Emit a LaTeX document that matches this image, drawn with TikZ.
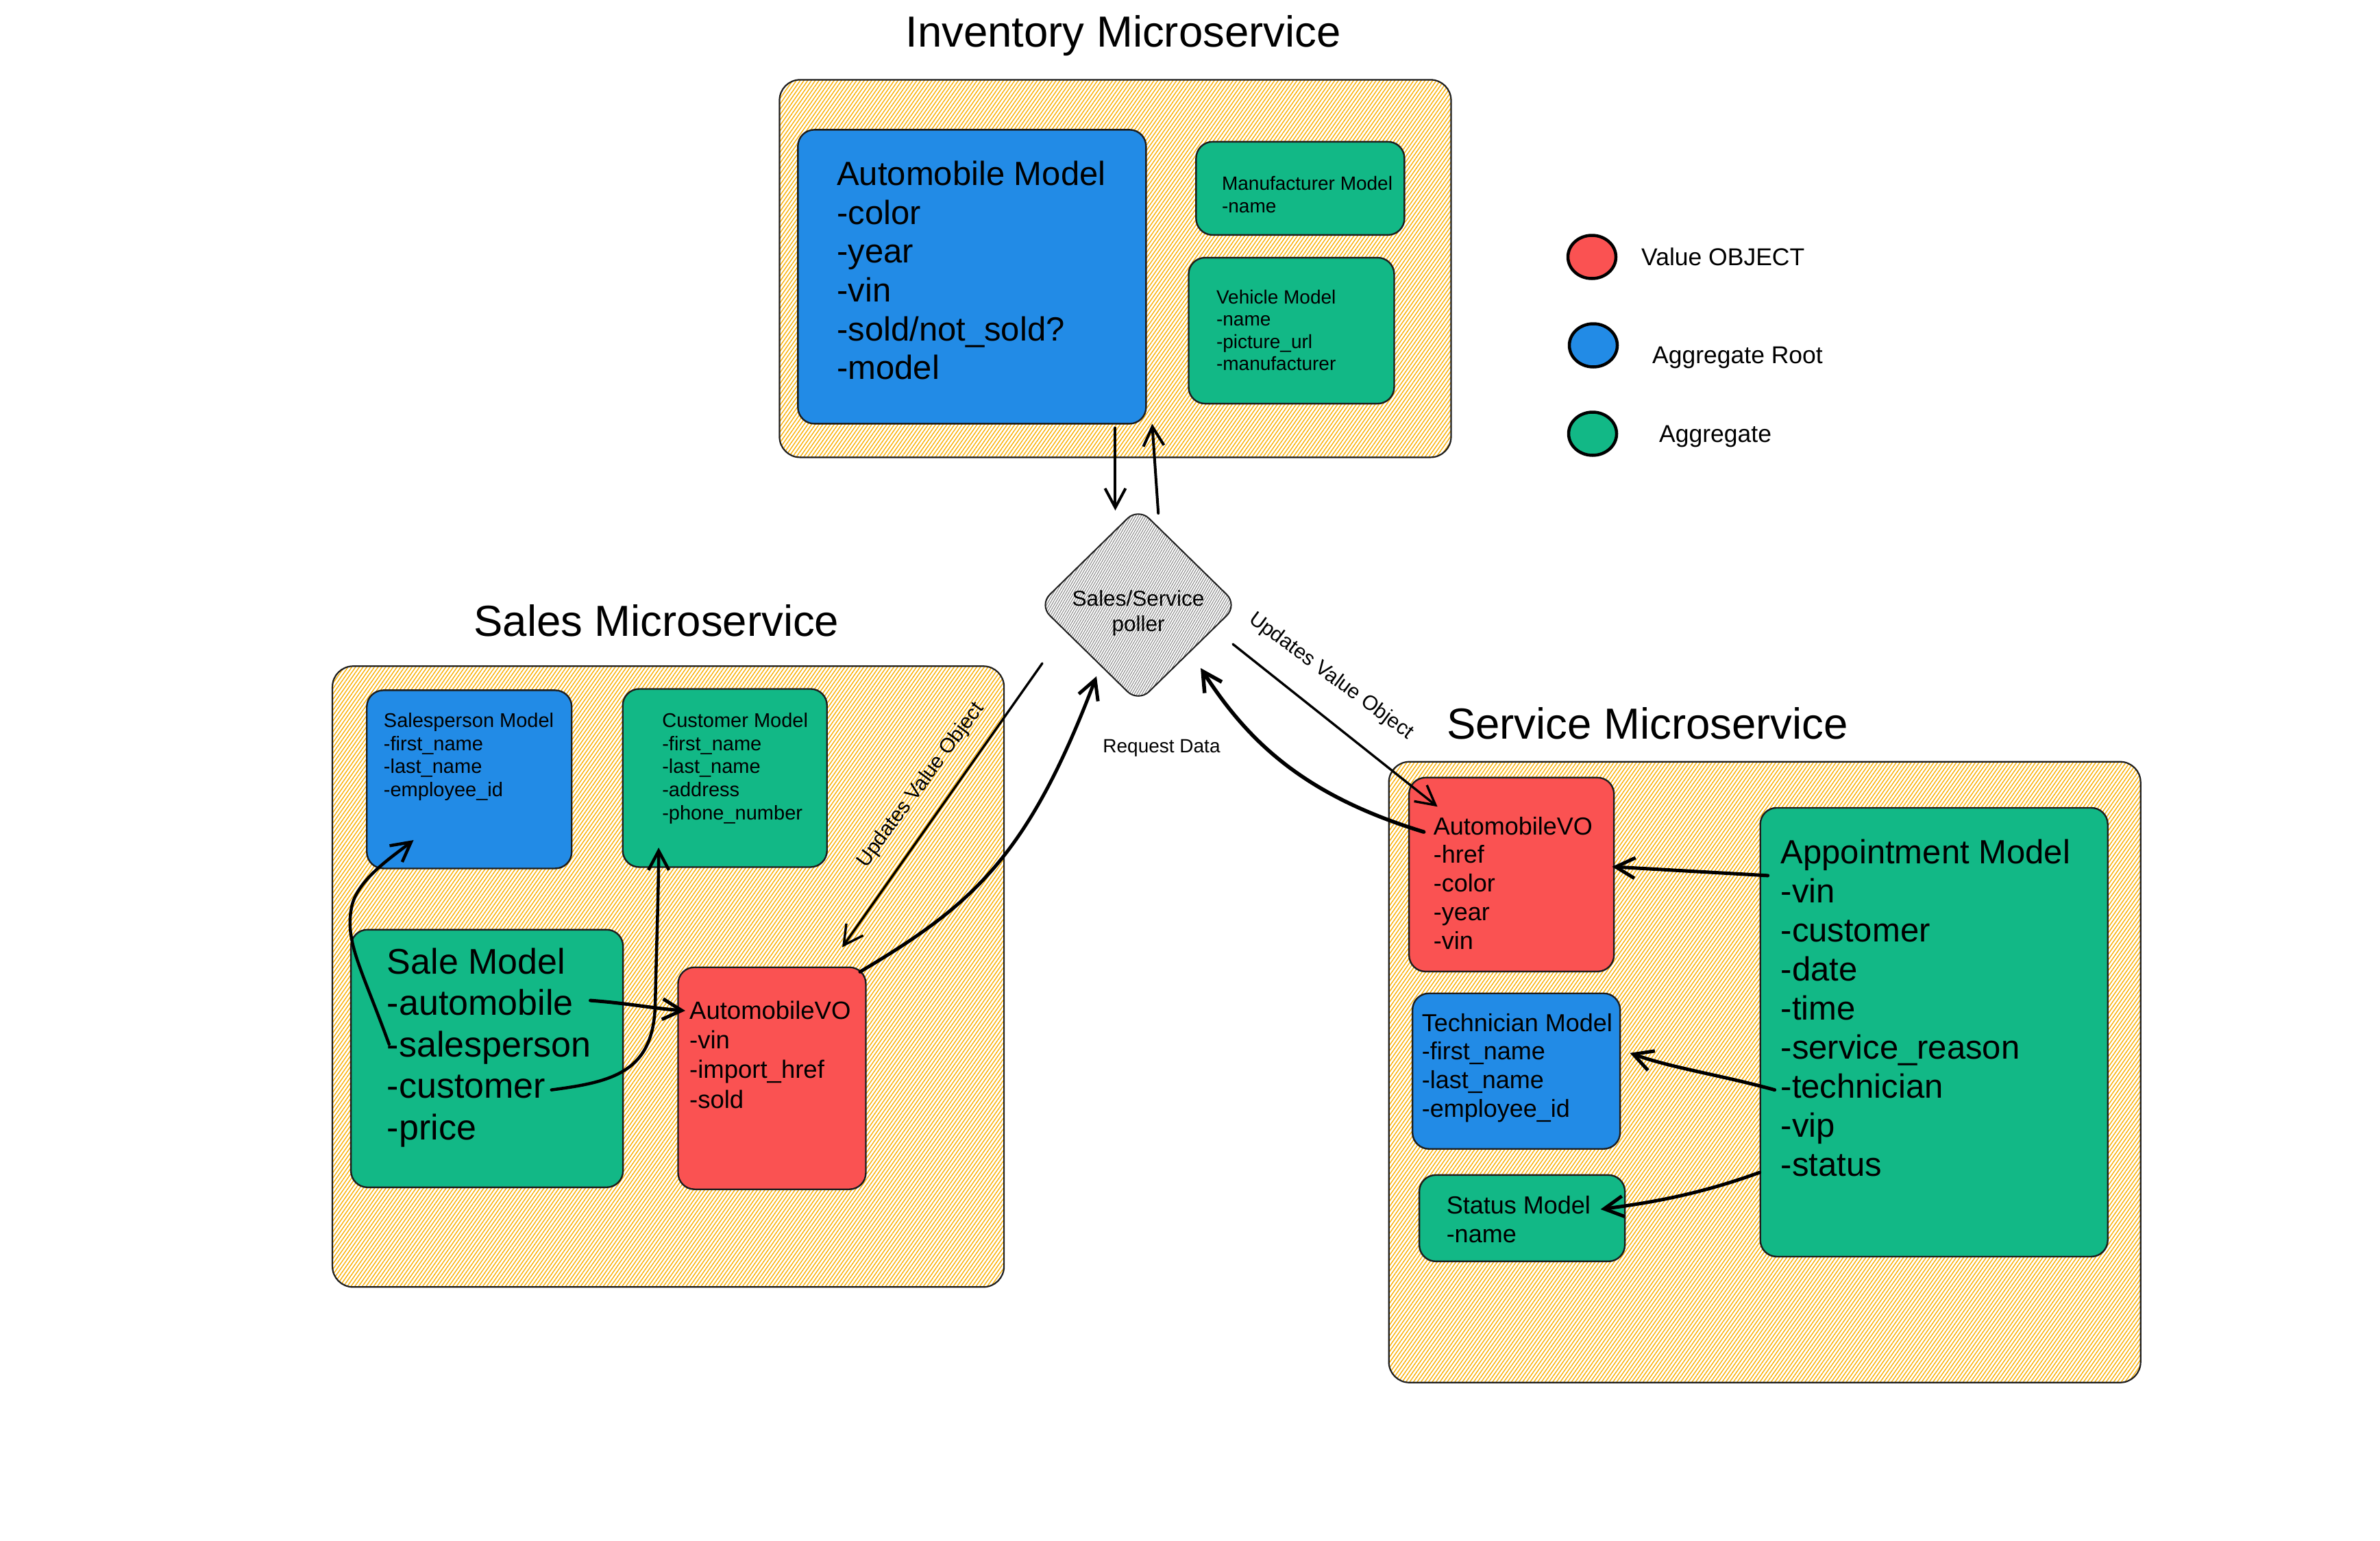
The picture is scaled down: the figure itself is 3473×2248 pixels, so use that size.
\documentclass[tikz,border=0pt]{standalone}
\usepackage{fontspec}
\setmainfont{Liberation Sans}
\usetikzlibrary{shapes.geometric,arrows.meta,patterns.meta}
\definecolor{exblue}{HTML}{228BE6}
\definecolor{exgreen}{HTML}{12B886}
\definecolor{exred}{HTML}{FA5252}
\definecolor{hatchy}{HTML}{FAB005}
\definecolor{hatchg}{HTML}{8C8C8C}
\definecolor{edge}{HTML}{1E1E1E}
\newcommand{\fsz}[2]{\fontsize{#1}{#2}\selectfont}
\begin{document}
\begin{tikzpicture}[x=1pt,y=-1pt,
  container/.style={draw=edge, line width=2.2pt, rounded corners=30pt, inner sep=0pt,
     pattern={Lines[angle=55,distance=4.5pt,line width=1.4pt]}, pattern color=hatchy},
  box/.style={draw=edge, line width=2.4pt, rounded corners=24pt, inner sep=0pt},
  bluebox/.style={box, fill=exblue},
  greenbox/.style={box, fill=exgreen},
  redbox/.style={box, fill=exred},
  txt/.style={anchor=north west, inner sep=0pt, align=left, text=black},
  title/.style={anchor=base, inner sep=0pt, font=\fsz{63.5}{70}},
  legdot/.style={ellipse, draw=black, line width=4.5pt, minimum width=70pt, minimum height=63pt, inner sep=0pt},
  legtxt/.style={anchor=base west, inner sep=0pt, font=\fsz{35.5}{40}},
  conn/.style={draw=black, line cap=round, line join=round, -{Straight Barb[length=28pt,width=30pt]}},
  thin/.style={conn, line width=3.4pt},
  thick/.style={conn, line width=5pt},
  lbl/.style={inner sep=0pt, font=\fsz{30}{34}}
]
\useasboundingbox (0,0) rectangle (3473,2248);
\fill[white] (0,0) rectangle (3473,2248);

% ---------- Titles ----------
\node[title] (invtitle) at (1639,69) {Inventory Microservice};
\node[title] (salestitle) at (958,928) {Sales Microservice};
\node[title] (servicetitle) at (2404,1078) {Service Microservice};

\begin{scope}[scale=0.996]
% ---------- Inventory ----------
\node[container, minimum width=980pt, minimum height=551pt] (inv) at (1634,393.5) {};
\node[bluebox, minimum width=508pt, minimum height=429pt] (automobile) at (1424,405.5) {};
\node[txt, font=\fsz{49}{56.6}] (automobiletxt) at (1226,236) {Automobile Model\\-color\\-year\\-vin\\-sold/not\_sold?\\-model};
\node[greenbox, minimum width=304pt, minimum height=136pt] (manufacturer) at (1905,276) {};
\node[txt, font=\fsz{28}{33}] (manufacturertxt) at (1790,257.6) {Manufacturer Model\\-name};
\node[greenbox, minimum width=300pt, minimum height=213pt] (vehicle) at (1892,484.5) {};
\node[txt, font=\fsz{28}{32.5}] (vehicletxt) at (1782,424.6) {Vehicle Model\\-name\\-picture\_url\\-manufacturer};

% ---------- Sales ----------
\node[container, minimum width=980pt, minimum height=906pt] (sales) at (979,1431) {};
\node[bluebox, minimum width=299pt, minimum height=260pt] (salesperson) at (687.5,1142) {};
\node[txt, font=\fsz{29}{33.7}] (salespersontxt) at (562,1044.3) {Salesperson Model\\-first\_name\\-last\_name\\-employee\_id};
\node[greenbox, minimum width=298pt, minimum height=260pt] (customer) at (1062,1140) {};
\node[txt, font=\fsz{29}{33.7}] (customertxt) at (970,1044.3) {Customer Model\\-first\_name\\-last\_name\\-address\\-phone\_number};
\node[greenbox, minimum width=397pt, minimum height=376pt] (sale) at (713.5,1551) {};
\node[txt, font=\fsz{52}{60.5}] (saletxt) at (567,1388.8) {Sale Model\\-automobile\\-salesperson\\-customer\\-price};
\node[redbox, minimum width=274pt, minimum height=324pt] (salesvo) at (1131,1580) {};
\node[txt, font=\fsz{36.5}{43.3}] (salesvotxt) at (1010,1466.5) {AutomobileVO\\-vin\\-import\_href\\-sold};

% ---------- Service ----------
\node[container, minimum width=1097pt, minimum height=906pt] (service) at (2585.5,1571) {};
\node[redbox, minimum width=299pt, minimum height=283pt] (servicevo) at (2214.5,1281.5) {};
\node[txt, font=\fsz{36}{41.7}] (servicevotxt) at (2100,1196.7) {AutomobileVO\\-href\\-color\\-year\\-vin};
\node[bluebox, minimum width=303pt, minimum height=227pt] (technician) at (2221.5,1569.5) {};
\node[txt, font=\fsz{36}{41.7}] (techniciantxt) at (2083,1484.7) {Technician Model\\-first\_name\\-last\_name\\-employee\_id};
\node[greenbox, minimum width=300pt, minimum height=126pt] (status) at (2230,1785) {};
\node[txt, font=\fsz{36}{42}] (statustxt) at (2119,1751.7) {Status Model\\-name};
\node[greenbox, minimum width=507pt, minimum height=655pt] (appointment) at (2833.5,1512.5) {};
\node[txt, font=\fsz{49}{57}] (appointmenttxt) at (2609,1229.9) {Appointment Model\\-vin\\-customer\\-date\\-time\\-service\_reason\\-technician\\-vip\\-status};

% ---------- connector end points inside the services ----------
\coordinate (invdownA) at (1634,627);
\coordinate (invdownB) at (1634,748);
\coordinate (invupA) at (1697,752);
\coordinate (invupB) at (1688,621);
\coordinate (reqA) at (1260,1424);
\coordinate (updLB) at (1234,1388);
\coordinate (updRB) at (2106,1182);
\coordinate (svoA) at (2086,1219);
\coordinate (autoA) at (865,1466);
\coordinate (autoB) at (1004,1481);
\coordinate (spA) at (570,1530);
\coordinate (spB) at (606,1231);
\coordinate (cuA) at (808,1597);
\coordinate (cuB) at (965,1242);
\coordinate (apvoA) at (2590,1283);
\coordinate (apvoB) at (2362,1270);
\coordinate (aptA) at (2600,1597);
\coordinate (aptB) at (2388,1543);
\coordinate (apsA) at (2578,1718);
\coordinate (apsB) at (2345,1772);

\draw[thick] (autoA) .. controls (920,1470) and (960,1478) .. (autoB);
\draw[thick, line width=4.5pt] (spA) .. controls (530,1420) and (505,1380) .. (515,1330) .. controls (522,1290) and (575,1255) .. (spB);
\draw[thick, line width=4.5pt] (cuA) .. controls (900,1585) and (958,1570) .. (960,1470) .. controls (962,1380) and (965,1300) .. (cuB);
\draw[thick] (apvoA) -- (apvoB);
\draw[thick] (aptA) .. controls (2520,1575) and (2450,1565) .. (aptB);
\draw[thick] (apsA) .. controls (2490,1750) and (2420,1762) .. (apsB);
\end{scope}

% ---------- Legend ----------
\node[legdot, fill=exred] (legred) at (2323,375) {};
\node[legtxt] (legredtxt) at (2395,387) {Value OBJECT};
\node[legdot, fill=exblue] (legblue) at (2325,504) {};
\node[legtxt] (legbluetxt) at (2411,530) {Aggregate Root};
\node[legdot, fill=exgreen] (leggreen) at (2324,633) {};
\node[legtxt] (leggreentxt) at (2421,645) {Aggregate};

% ---------- Poller ----------
\node[diamond, draw=edge, line width=2pt, rounded corners=22pt, minimum width=290pt, minimum height=284pt, inner sep=0pt,
      pattern={Lines[angle=60,distance=3.2pt,line width=1.1pt]}, pattern color=hatchg] (poller) at (1661,883) {};
\node[anchor=north, inner sep=0pt, align=center, font=\fsz{31.5}{37}] (pollertxt) at (1661,861) {Sales/Service\\poller};

% ---------- connectors around the poller ----------
\coordinate (updLA) at (1521,968);
\coordinate (reqB) at (1600,987);
\coordinate (updRA) at (1799,940);
\coordinate (svoB) at (1752,975);

\draw[thin, line width=4pt] (invdownA) -- (invdownB);
\draw[thin, line width=4pt] (invupA) -- (invupB);
\draw[thin] (updLA) -- (updLB);
\node[lbl, rotate=53.5] (updLtxt) at (1344,1146) {Updates Value Object};
\draw[thick] (reqA) .. controls (1420,1320) and (1500,1250) .. (reqB);
\node[lbl, anchor=base, font=\fsz{28}{32}] (reqtxt) at (1695,1098) {Request Data};
\draw[thin] (updRA) -- (updRB);
\node[lbl, rotate=-36.5] (updRtxt) at (1942,987) {Updates Value Object};
\draw[thick, line width=5.5pt] (svoA) .. controls (1900,1160) and (1820,1080) .. (svoB);
\end{tikzpicture}
\end{document}
